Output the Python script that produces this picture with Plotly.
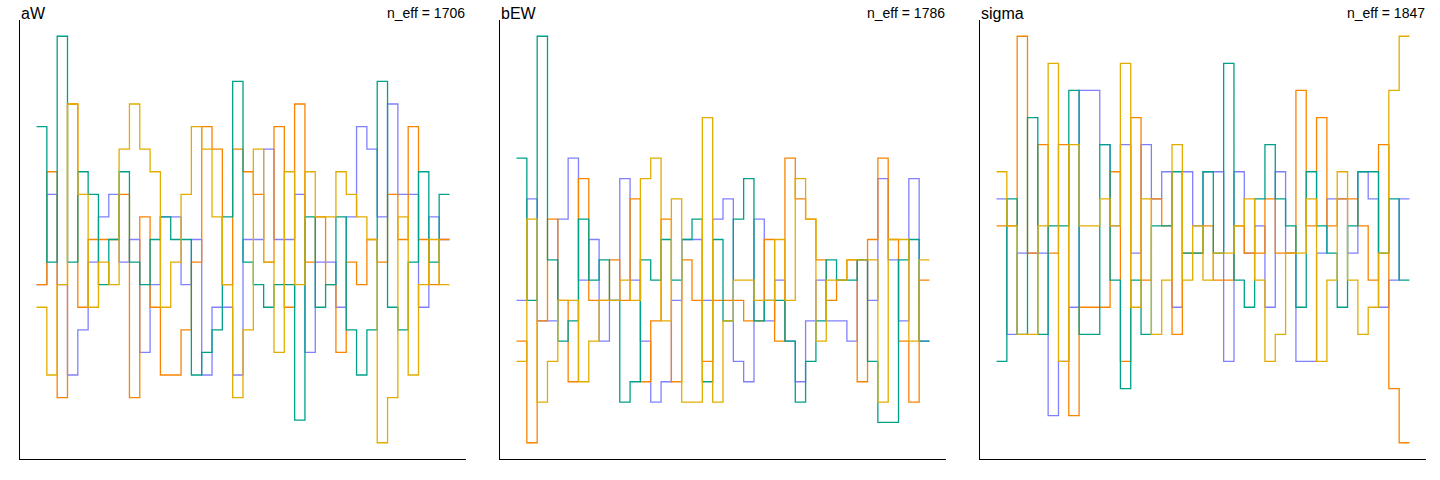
import plotly.graph_objects as go

# Trank plot data: rank-histogram counts per bin (40 bins) for 4 chains, 3 parameters
params = ["aW", "bEW", "sigma"]
n_eff = [1706, 1786, 1847]
chain_colors = ["#8080FF", "#F98400", "#00A08A", "#E2AD00"]  # chains 1..4

# aW
aW_chain1 = [11,15,11,7,9,12,14,15,12,13,8,11,14,14,11,13,7,10,10,7,13,13,17,13,13,15,8,12,12,10,14,18,17,14,19,15,15,10,14,13]
aW_chain2 = [11,16,6,19,10,13,13,13,15,6,14,10,7,7,9,12,18,17,11,17,16,15,12,18,10,19,12,14,11,8,12,11,13,12,15,13,18,13,11,13]
aW_chain3 = [18,12,22,12,16,15,11,13,16,12,11,13,14,13,13,7,8,9,14,20,12,11,10,11,11,5,14,10,11,14,9,7,9,20,10,9,12,16,12,15]
aW_chain4 = [10,7,11,19,15,10,12,11,17,19,17,16,10,12,15,18,17,14,11,6,9,17,12,8,16,11,16,14,14,16,15,14,13,4,6,14,7,11,13,11]

# bEW
bEW_chain1 = [10,15,9,9,14,17,11,13,8,10,16,11,8,5,6,10,13,13,10,14,15,7,6,14,9,11,8,6,9,11,9,9,8,12,10,16,12,9,16,8]
bEW_chain2 = [8,3,9,14,10,6,16,10,10,12,10,15,6,9,14,6,12,10,7,10,10,10,9,9,13,8,17,15,14,12,10,11,12,6,13,17,13,8,5,11]
bEW_chain3 = [17,10,23,12,8,9,14,11,12,10,5,6,12,11,13,11,13,14,6,13,9,14,16,9,10,10,8,5,7,9,12,11,11,12,7,4,4,12,13,8]
bEW_chain4 = [7,14,5,7,10,10,6,8,10,10,11,10,16,17,9,15,5,5,19,5,9,11,11,10,10,13,10,16,14,8,11,11,12,12,12,5,13,13,8,12]

# sigma
sigma_chain1 = [14,9,12,12,12,6,8,10,18,18,16,13,16,12,16,14,15,10,15,13,15,15,8,15,12,13,10,15,12,8,8,12,14,14,12,15,14,10,11,14]
sigma_chain2 = [13,13,20,12,16,12,16,6,10,10,10,15,8,17,11,14,13,9,12,12,13,11,11,13,12,12,14,12,12,18,13,17,13,14,14,13,11,16,7,5]
sigma_chain3 = [8,14,9,17,9,13,13,18,9,9,16,11,7,11,9,13,13,15,12,12,15,12,19,11,10,14,16,14,13,10,15,13,12,10,13,15,15,12,14,11]
sigma_chain4 = [15,13,9,9,13,19,8,16,13,13,14,13,19,10,14,9,11,16,11,13,11,12,12,13,14,11,8,9,12,12,14,8,11,15,11,9,10,12,18,20]

panels = [
    [aW_chain1, aW_chain2, aW_chain3, aW_chain4],
    [bEW_chain1, bEW_chain2, bEW_chain3, bEW_chain4],
    [sigma_chain1, sigma_chain2, sigma_chain3, sigma_chain4],
]

W, H = 1440, 480
px_left = [20, 500, 980]
px_w = 446
px_top, px_bottom = 20, 459

fig = go.Figure()
layout = dict(
    width=W, height=H, margin=dict(l=0, r=0, t=0, b=0),
    paper_bgcolor="white", plot_bgcolor="white", showlegend=False,
    font=dict(family="Liberation Sans, Arial, sans-serif", color="black"),
)
annotations = []
for p, chains in enumerate(panels):
    ax = "" if p == 0 else str(p + 1)
    nb = len(chains[0])
    allv = [v for c in chains for v in c]
    lo, hi = min(allv), max(allv)
    pad = 0.04 * (hi - lo)
    xpad = 0.04 * nb
    for ci, counts in enumerate(chains):
        xs = list(range(nb + 1))
        ys = counts + [counts[-1]]
        fig.add_trace(go.Scatter(
            x=xs, y=ys, mode="lines", line=dict(color=chain_colors[ci], width=1.3, shape="hv"),
            xaxis="x" + ax, yaxis="y" + ax, hoverinfo="skip"))
    x0 = px_left[p] / W
    x1 = (px_left[p] + px_w) / W
    layout["xaxis" + ax] = dict(domain=[x0, x1], range=[-xpad, nb + xpad], showgrid=False, zeroline=False,
                                showticklabels=False, ticks="", showline=True, linecolor="black", linewidth=1,
                                anchor="y" + ax)
    layout["yaxis" + ax] = dict(domain=[(H - px_bottom) / H, (H - px_top) / H], range=[lo - pad, hi + pad],
                                showgrid=False, zeroline=False, showticklabels=False, ticks="", showline=True,
                                linecolor="black", linewidth=1, anchor="x" + ax)
    annotations.append(dict(text=params[p], xref="paper", yref="paper", x=x0, y=(H - 23) / H,
                            xanchor="left", yanchor="bottom", showarrow=False, borderpad=0,
                            font=dict(size=16, color="black")))
    annotations.append(dict(text="n_eff = %d" % n_eff[p], xref="paper", yref="paper", x=x1, y=(H - 22) / H,
                            xanchor="right", yanchor="bottom", showarrow=False, borderpad=0,
                            font=dict(size=14, color="black")))
layout["annotations"] = annotations
fig.update_layout(**layout)
fig.write_html("out.html")
